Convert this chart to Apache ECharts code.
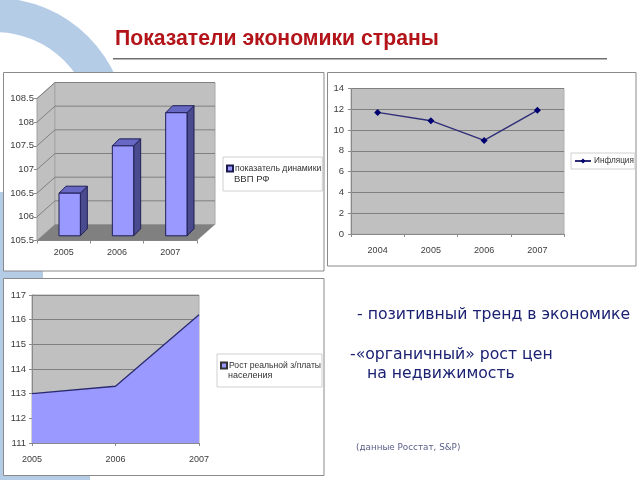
<!DOCTYPE html>
<html><head><meta charset="utf-8">
<script src="https://cdn.jsdelivr.net/npm/echarts@6/dist/echarts.min.js"></script>
<style>html,body{margin:0;padding:0;background:#fff}#c{width:640px;height:480px;filter:blur(0.5px)}</style>
</head><body><div id="c"></div>
<script>
const gdpYears = ['2005','2006','2007'];
const gdpValues = [106.4,107.4,108.1];
const gdpName = 'показатель динамики';
const gdpName2 = 'ВВП РФ';
const gdpTicks = [105.5,106,106.5,107,107.5,108,108.5];
const inflationYears = ['2004','2005','2006','2007'];
const inflationValues = [11.7,10.9,9.0,11.9];
const inflationName = 'Инфляция';
const wageYears = ['2005','2006','2007'];
const wageValues = [113,113.3,116.2];
const wageName = 'Рост реальной з/платы';
const wageName2 = 'населения';
const titleText = 'Показатели экономики страны';

const NARROW = '"Liberation Sans",Arial,sans-serif';
const SANS = '"DejaVu Sans",Verdana,sans-serif';
const BLUE = '#b5cce7';
const LABEL = '#3c3c3c';
const DX = 18, DY = 16;

function panel(x,y,w,h){return {type:'rect',z:-1,shape:{x,y,width:w,height:h},style:{fill:'#fff',stroke:'#8a8a8a',lineWidth:1}};}
function txt(x,y,text,font,fill){return {type:'text',z:30,x,y,style:{text,font,fill,textVerticalAlign:'middle'}};}
function legendBox(name,left,top,pad,icon,iw,ih,fs,shift){
  return {data:[name],left,top,orient:'horizontal',padding:pad,itemWidth:iw,itemHeight:ih,itemGap:0,
    icon,backgroundColor:'#fff',borderColor:'#d0d0d0',borderWidth:1,selectedMode:false,
    textStyle:{fontFamily:NARROW,fontSize:fs,color:'#333',padding:[0,0,0,shift]}};
}
function axisCommon(gi,data,gap,margin){
  return {type:'category',gridIndex:gi,data,boundaryGap:gap,
    axisLine:{show:true,lineStyle:{color:'#8a8a8a'}},axisTick:{show:true,inside:false,length:3,alignWithLabel:false,lineStyle:{color:'#8a8a8a'}},
    axisLabel:{fontFamily:NARROW,fontSize:9,color:LABEL,margin},splitLine:{show:false}};
}
function valAxis(gi,min,max,interval,margin){
  return {type:'value',gridIndex:gi,min,max,interval,
    axisLine:{show:true,lineStyle:{color:'#8a8a8a'}},axisTick:{show:true,length:3,lineStyle:{color:'#8a8a8a'}},
    axisLabel:{fontFamily:NARROW,fontSize:9.5,color:LABEL,margin},
    splitLine:{show:false}};
}

const option = {
  animation:false,
  backgroundColor:'#fff',
  grid:[
    {left:37,top:98.5,width:160,height:142},
    {left:351,top:88.5,width:213,height:145.5,show:true,backgroundColor:'#c0c0c0',borderColor:'#b0b0b0',borderWidth:1},
    {left:32,top:295,width:167,height:148,show:true,backgroundColor:'#c0c0c0',borderColor:'#a8a8a8',borderWidth:1}
  ],
  xAxis:[axisCommon(0,gdpYears,true,8),axisCommon(1,inflationYears,true,12),axisCommon(2,wageYears,false,12)],
  yAxis:[
    valAxis(0,105.5,108.5,0.5,3),
    Object.assign(valAxis(1,0,14,2,7),{splitLine:{show:true,lineStyle:{color:'#7f7f7f',width:1}}}),
    Object.assign(valAxis(2,111,117,1,6),{splitLine:{show:true,lineStyle:{color:'#7f7f7f',width:1}}})
  ],
  legend:[
    legendBox(gdpName,223,157,[7,1,18,3],'rect',6,6,8.7,-3),
    legendBox(inflationName,571,153,[4,1,4,3],undefined,16,6,8.2,-2),
    legendBox(wageName,217,354,[7,1,17,3],'rect',6,6,8.6,-3)
  ],
  series:[
    {type:'custom',name:'wall',xAxisIndex:0,yAxisIndex:0,z:2,silent:true,clip:false,legendHoverLink:false,
      data:gdpTicks.map(v=>[0,v]),
      renderItem(params,api){
        const cs=params.coordSys, children=[];
        const l=cs.x,r=cs.x+cs.width,t=cs.y,b=cs.y+cs.height;
        if(params.dataIndex===0){
          children.push({type:'polygon',shape:{points:[[l,t],[l+DX,t-DY],[l+DX,b-DY],[l,b]]},style:{fill:'#c0c0c0',stroke:'#a0a0a0',lineWidth:1}});
          children.push({type:'polygon',shape:{points:[[l+DX,t-DY],[r+DX,t-DY],[r+DX,b-DY],[l+DX,b-DY]]},style:{fill:'#c0c0c0',stroke:'#a8a8a8',lineWidth:1}});
          children.push({type:'polygon',shape:{points:[[l,b],[l+DX,b-DY],[r+DX,b-DY],[r,b]]},style:{fill:'#808080'}});
        } else {
          const y=api.coord([0,api.value(1)])[1];
          children.push({type:'polyline',shape:{points:[[l,y],[l+DX,y-DY],[r+DX,y-DY]]},style:{fill:'none',stroke:'#808080',lineWidth:1}});
        }
        return {type:'group',children};
      }},
    {type:'custom',name:gdpName,xAxisIndex:0,yAxisIndex:0,z:3,clip:false,
      itemStyle:{color:'#9999ff',borderColor:'#1a1a50',borderWidth:1},
      encode:{x:0,y:1},
      data:gdpValues.map((v,i)=>[i,v]),
      renderItem(params,api){
        const i=api.value(0), top=api.coord([i,api.value(1)]), base=api.coord([i,105.5]);
        const w=api.size([1,0])[0]*0.4, sx=6, sy=-4.7, dx=7, dy=7;
        const x0=top[0]-w/2+sx, x1=x0+w, yt=top[1]+sy, yb=base[1]+sy;
        const st={stroke:'#1f1f55',lineWidth:1};
        return {type:'group',children:[
          {type:'polygon',shape:{points:[[x1,yt],[x1+dx,yt-dy],[x1+dx,yb-dy],[x1,yb]]},style:Object.assign({fill:'#4a4a8f'},st)},
          {type:'polygon',shape:{points:[[x0,yt],[x0+dx,yt-dy],[x1+dx,yt-dy],[x1,yt]]},style:Object.assign({fill:'#6767c4'},st)},
          {type:'rect',shape:{x:x0,y:yt,width:w,height:yb-yt},style:Object.assign({fill:'#9999ff'},st)}
        ]};
      }},
    {type:'line',name:inflationName,xAxisIndex:1,yAxisIndex:1,data:inflationValues,z:3,
      symbol:'diamond',symbolSize:7,showSymbol:true,
      lineStyle:{color:'#2f2f78',width:1.4},itemStyle:{color:'#000070'}},
    {type:'line',name:wageName,xAxisIndex:2,yAxisIndex:2,data:wageValues,z:3,
      symbol:'none',lineStyle:{color:'#2a2a70',width:1.3},itemStyle:{color:'#9999ff',borderColor:'#333',borderWidth:1},
      areaStyle:{color:'#9999ff',opacity:1}}
  ],
  graphic:[
    {type:'ring',z:-3,shape:{cx:-5,cy:130,r:132,r0:98},style:{fill:BLUE}},
    {type:'rect',z:-3,shape:{x:0,y:192,width:43,height:288},style:{fill:BLUE}},
    {type:'rect',z:-3,shape:{x:0,y:470,width:90,height:10},style:{fill:BLUE}},
    panel(3.5,72.5,320.5,198.5),
    panel(327.5,72.5,308.5,193.5),
    panel(3.5,278.5,320.5,197),
    {type:'rect',z:-1,shape:{x:113,y:58,width:494,height:1.4},style:{fill:'#6f6f6f'}},
    txt(115,39.5,titleText,'bold 21.2px "Liberation Sans",Arial,sans-serif','#b21419'),
    txt(234,179,gdpName2,'9.5px '+NARROW,'#333'),
    txt(228,376,wageName2,'9px '+NARROW,'#333'),
    txt(357,314.5,'- позитивный тренд в экономике','15.7px '+SANS,'#1c2272'),
    txt(350,354.5,'-«органичный» рост цен','15.7px '+SANS,'#1c2272'),
    txt(367,373.5,'на недвижимость','15.7px '+SANS,'#1c2272'),
    txt(356,448,'(данные Росстат, S&P)','8.8px '+SANS,'#5a5f88')
  ]
};
const chart = echarts.init(document.getElementById('c'),null,{renderer:'canvas',width:640,height:480});
chart.setOption(option);
</script></body></html>
